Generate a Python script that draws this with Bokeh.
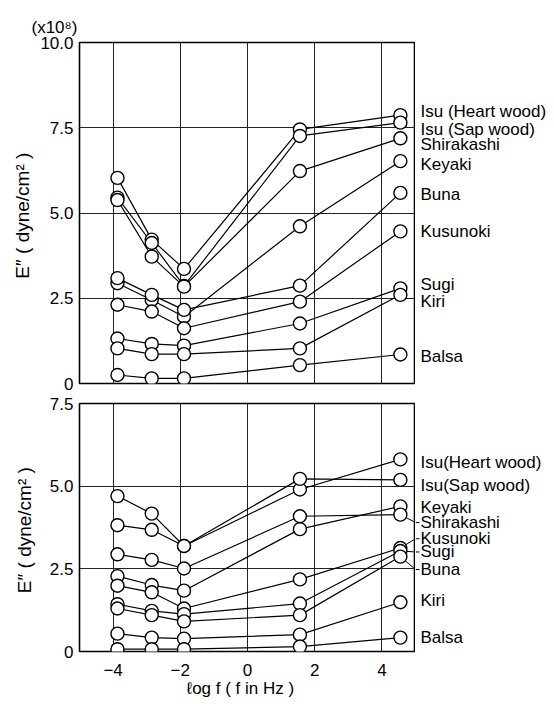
from bokeh.plotting import figure
from bokeh.models import FixedTicker, Range1d
from bokeh.layouts import column, row
from bokeh.core.properties import value
from bokeh.embed import file_html
from bokeh.resources import INLINE

FONT = "Liberation Sans"

# log f (f in Hz) at which E'' was measured
log_f = [-3.87, -2.85, -1.89, 1.56, 4.55]

# ---- upper panel (E'' x10^8 dyne/cm^2)
top_names = ["Isu (Heart wood)", "Isu (Sap wood)", "Shirakashi", "Keyaki", "Buna",
             "Kusunoki", "Sugi", "Kiri", "Balsa"]
top_isu_heart = [6.03, 4.22, 3.36, 7.45, 7.87]
top_isu_sap = [5.45, 4.12, 2.86, 7.26, 7.65]
top_shirakashi = [5.38, 3.72, 2.84, 6.23, 7.19]
top_keyaki = [2.94, 2.45, 1.96, 4.61, 6.52]
top_buna = [3.09, 2.60, 2.16, 2.87, 5.59]
top_kusunoki = [2.31, 2.11, 1.62, 2.40, 4.46]
top_sugi = [1.32, 1.16, 1.11, 1.76, 2.79]
top_kiri = [1.03, 0.86, 0.86, 1.03, 2.60]
top_balsa = [0.25, 0.15, 0.15, 0.54, 0.85]
top_series = [top_isu_heart, top_isu_sap, top_shirakashi, top_keyaki, top_buna,
              top_kusunoki, top_sugi, top_kiri, top_balsa]
top_label_y = [7.99, 7.45, 7.01, 6.42, 5.54, 4.46, 2.89, 2.40, 0.78]
top_leader = [False] * 9
top_yticks = [0, 2.5, 5, 7.5, 10]
top_ytick_labels = ["0", "2.5", "5.0", "7.5", "10.0"]

# ---- lower panel
bot_names = ["Isu(Heart wood)", "Isu(Sap wood)", "Keyaki", "Shirakashi", "Kusunoki",
             "Sugi", "Buna", "Kiri", "Balsa"]
bot_isu_heart = [4.70, 4.17, 3.19, 4.90, 5.81]
bot_isu_sap = [3.82, 3.68, 3.19, 5.22, 5.19]
bot_keyaki = [2.28, 2.01, 1.84, 3.70, 4.39]
bot_shirakashi = [2.94, 2.77, 2.51, 4.09, 4.14]
bot_kusunoki = [1.99, 1.79, 1.30, 2.18, 3.13]
bot_sugi = [1.43, 1.23, 1.13, 1.45, 3.04]
bot_buna = [1.30, 1.10, 0.91, 1.10, 2.87]
bot_kiri = [0.54, 0.42, 0.39, 0.51, 1.49]
bot_balsa = [0.07, 0.07, 0.07, 0.15, 0.42]
bot_series = [bot_isu_heart, bot_isu_sap, bot_keyaki, bot_shirakashi, bot_kusunoki,
              bot_sugi, bot_buna, bot_kiri, bot_balsa]
bot_label_y = [5.71, 5.02, 4.34, 3.90, 3.41, 3.01, 2.48, 1.54, 0.42]
bot_leader = [False, False, False, True, True, True, True, False, False]
bot_yticks = [0, 2.5, 5, 7.5]
bot_ytick_labels = ["0", "2.5", "5.0", "7.5"]

x_ticks = [-4, -2, 0, 2, 4]
X_MIN, X_MAX = -5, 5

LEFT = 79
FRAME_W = 336
LABEL_W = 554 - LEFT - FRAME_W


def make_panel(series, names, label_y, leaders, ymax, yticks, ytick_labels,
               b_top, frame_h, b_bottom, show_x, label_standoff):
    height = b_top + frame_h + b_bottom
    yr = Range1d(0, ymax)
    p = figure(width=LEFT + FRAME_W, height=height, x_range=Range1d(X_MIN, X_MAX),
               y_range=yr, output_backend="svg", toolbar_location=None,
               min_border_left=LEFT, min_border_right=0,
               min_border_top=b_top, min_border_bottom=b_bottom)
    p.outline_line_color = "black"
    p.outline_line_width = 1.6
    p.background_fill_color = "white"
    p.border_fill_color = "white"

    p.xgrid.ticker = FixedTicker(ticks=x_ticks)
    p.ygrid.ticker = FixedTicker(ticks=[t for t in yticks if 0 < t < ymax])
    for g in (p.xgrid, p.ygrid):
        g.grid_line_color = "#222222"
        g.grid_line_width = 1

    ya = p.yaxis[0]
    ya.ticker = FixedTicker(ticks=yticks)
    ya.major_label_overrides = {t: s for t, s in zip(yticks, ytick_labels)}
    ya.axis_line_color = None
    ya.major_tick_line_color = None
    ya.minor_tick_line_color = None
    ya.major_tick_out = 0
    ya.minor_tick_out = 0
    ya.major_label_standoff = 6
    ya.major_label_text_font = FONT
    ya.major_label_text_font_size = "17px"
    ya.major_label_text_color = "black"
    ya.axis_label = "E\u2033  ( dyne/cm\u00b2 )"
    ya.axis_label_text_font = FONT
    ya.axis_label_text_font_size = "19px"
    ya.axis_label_text_font_style = "normal"
    ya.axis_label_text_color = "black"
    ya.axis_label_standoff = label_standoff

    xa = p.xaxis[0]
    xa.ticker = FixedTicker(ticks=x_ticks)
    xa.axis_line_color = None
    xa.major_tick_line_color = None
    xa.minor_tick_line_color = None
    xa.major_tick_out = 0
    xa.minor_tick_out = 0
    if show_x:
        xa.major_label_standoff = 12
        xa.major_label_text_font = FONT
        xa.major_label_text_font_size = "17px"
        xa.major_label_text_color = "black"
        xa.axis_label = "\u2113og  f   ( f in Hz )"
        xa.axis_label_text_font = FONT
        xa.axis_label_text_font_size = "17px"
        xa.axis_label_text_font_style = "normal"
        xa.axis_label_text_color = "black"
        xa.axis_label_standoff = 0
    else:
        xa.visible = False

    # leader lines to the labels (drawn under the circles)
    lx0, ly0, lx1, ly1 = [], [], [], []
    for vals, ly, flag in zip(series, label_y, leaders):
        if flag:
            lx0.append(log_f[-1]); ly0.append(vals[-1])
            lx1.append(X_MAX); ly1.append(ly)
    if lx0:
        p.segment(lx0, ly0, lx1, ly1, line_color="black", line_width=1)

    for vals in series:
        p.line(log_f, vals, line_color="black", line_width=1.2)
    for vals in series:
        p.scatter(log_f, vals, marker="circle", size=13, fill_color="white",
                  line_color="black", line_width=1.4)

    # label strip to the right of the frame, sharing the y range
    q = figure(width=LABEL_W, height=height, x_range=Range1d(0, LABEL_W), y_range=yr,
               output_backend="svg", toolbar_location=None,
               x_axis_location=None, y_axis_location=None,
               min_border_left=0, min_border_right=0,
               min_border_top=b_top, min_border_bottom=b_bottom)
    q.outline_line_color = None
    q.xgrid.visible = False
    q.ygrid.visible = False
    q.background_fill_color = "white"
    q.border_fill_color = "white"
    sx0, sy0, sx1 = [], [], []
    for ly, flag in zip(label_y, leaders):
        if flag:
            sx0.append(0); sy0.append(ly); sx1.append(4)
    if sx0:
        q.segment(sx0, sy0, sx1, sy0, line_color="black", line_width=1)
    q.text(x=[5] * len(names), y=label_y, text=names, text_baseline="middle",
           text_align="left", text_font=value(FONT), text_font_size="17px",
           text_color="black")
    return p, q


top, top_lab = make_panel(top_series, top_names, top_label_y, top_leader, 10,
                          top_yticks, top_ytick_labels,
                          b_top=42, frame_h=341, b_bottom=10, show_x=False,
                          label_standoff=4)
top.title.text = "(x10\u2078)"
top.title.align = "left"
top.title.offset = -48
top.title.standoff = 12
top.title.text_font = FONT
top.title.text_font_size = "17px"
top.title.text_font_style = "normal"
top.title.text_color = "black"

bot, bot_lab = make_panel(bot_series, bot_names, bot_label_y, bot_leader, 7.5,
                          bot_yticks, bot_ytick_labels,
                          b_top=10, frame_h=248, b_bottom=52, show_x=True,
                          label_standoff=12)

layout = column(row(top, top_lab, spacing=0), row(bot, bot_lab, spacing=0), spacing=0)
open("out.html", "w").write(file_html(layout, INLINE))
